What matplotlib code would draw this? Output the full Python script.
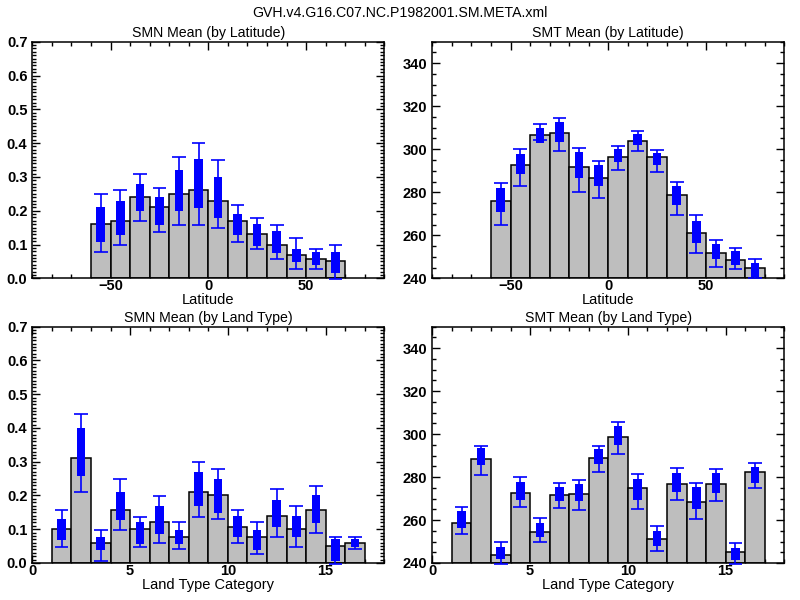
import numpy as np
import matplotlib
matplotlib.use("Agg")
import matplotlib.pyplot as plt
from matplotlib.ticker import MultipleLocator, FormatStrFormatter

plt.rcParams['font.family'] = ['Liberation Sans', 'DejaVu Sans']

suptitle = "GVH.v4.G16.C07.NC.P1982001.SM.META.xml"

# ---------- SMN by latitude ----------
smn_lat_edges = [-60, -50, -40, -30, -20, -10, 0, 10, 20, 30, 40, 50, 60]
smn_lat_mean = [0.16, 0.17, 0.24, 0.21, 0.25, 0.26, 0.23, 0.17, 0.13, 0.10, 0.07, 0.057, 0.05]
smn_lat_box_hi = [0.21, 0.23, 0.28, 0.24, 0.32, 0.352, 0.30, 0.19, 0.16, 0.139, 0.087, 0.079, 0.079]
smn_lat_box_lo = [0.107, 0.127, 0.20, 0.157, 0.20, 0.208, 0.178, 0.127, 0.097, 0.076, 0.047, 0.038, 0.017]
smn_lat_wh_hi = [0.25, 0.26, 0.31, 0.268, 0.36, 0.40, 0.35, 0.218, 0.178, 0.158, 0.119, 0.086, 0.098]
smn_lat_wh_lo = [0.078, 0.10, 0.17, 0.138, 0.158, 0.158, 0.149, 0.108, 0.086, 0.057, 0.028, 0.028, -0.002]

# ---------- SMT by latitude ----------
smt_lat_edges = [-60, -50, -40, -30, -20, -10, 0, 10, 20, 30, 40, 50, 60, 70]
smt_lat_mean = [275.9, 292.7, 306.4, 307.7, 291.8, 286.7, 296.6, 303.9, 296.6, 278.7, 261.0, 251.7, 248.4, 244.7]
smt_lat_box_hi = [282.0, 297.9, 310.0, 312.8, 298.8, 292.7, 300.2, 307.2, 298.3, 283.1, 266.6, 255.9, 252.6, 247.0]
smt_lat_box_lo = [270.6, 288.4, 303.1, 303.6, 286.8, 282.8, 294.0, 301.9, 292.6, 273.9, 256.6, 248.9, 246.4, 240.8]
smt_lat_wh_hi = [284.2, 300.2, 311.8, 314.5, 300.7, 294.4, 301.4, 308.4, 299.6, 284.6, 269.2, 258.0, 254.3, 249.2]
smt_lat_wh_lo = [264.7, 282.9, 304.4, 299.3, 280.1, 277.3, 290.4, 299.1, 289.3, 269.4, 251.7, 245.4, 244.2, 240.0]

# ---------- SMN by land type ----------
land_edges = [1, 2, 3, 4, 5, 6, 7, 8, 9, 10, 11, 12, 13, 14, 15, 16]
smn_land_mean = [0.10, 0.31, 0.058, 0.158, 0.10, 0.12, 0.078, 0.209, 0.20, 0.108, 0.078, 0.138, 0.10, 0.158, 0.049, 0.058]
smn_land_box_hi = [0.13, 0.40, 0.078, 0.209, 0.12, 0.17, 0.099, 0.269, 0.25, 0.138, 0.099, 0.188, 0.138, 0.20, 0.07, 0.07]
smn_land_box_lo = [0.069, 0.258, 0.039, 0.128, 0.057, 0.086, 0.057, 0.169, 0.149, 0.077, 0.039, 0.106, 0.077, 0.119, 0.006, 0.047]
smn_land_wh_hi = [0.158, 0.44, 0.098, 0.25, 0.137, 0.199, 0.12, 0.30, 0.279, 0.158, 0.12, 0.218, 0.169, 0.229, 0.078, 0.078]
smn_land_wh_lo = [0.048, 0.209, 0.006, 0.099, 0.048, 0.058, 0.04, 0.137, 0.129, 0.058, 0.028, 0.078, 0.048, 0.088, -0.004, 0.04]

# ---------- SMT by land type ----------
smt_land_mean = [258.6, 288.4, 243.7, 272.6, 254.4, 271.6, 272.1, 288.8, 298.8, 274.9, 251.2, 276.7, 268.4, 276.7, 245.1, 282.3]
smt_land_box_hi = [264.3, 293.6, 247.6, 277.8, 258.8, 275.5, 276.9, 293.2, 303.9, 279.2, 255.0, 282.0, 275.5, 282.0, 247.1, 284.8]
smt_land_box_lo = [256.4, 285.4, 241.7, 269.5, 252.2, 268.7, 268.7, 285.9, 295.0, 269.5, 248.1, 273.2, 265.3, 272.7, 241.2, 277.4]
smt_land_wh_hi = [266.0, 294.4, 249.8, 280.0, 260.9, 277.2, 278.6, 294.4, 305.6, 281.4, 257.2, 284.2, 277.2, 283.7, 249.3, 286.5]
smt_land_wh_lo = [253.5, 280.8, 239.5, 266.0, 249.8, 265.4, 264.7, 282.3, 290.7, 265.1, 245.6, 269.3, 260.5, 268.8, 239.5, 274.7]

BAR_GRAY = '#bebebe'
BLUE = '#0000ff'

fig = plt.figure(figsize=(8, 6), dpi=100)
fig.text(0.5, 1 - 13 / 600, suptitle, ha='center', va='center', fontsize=10.2)

positions = {
    'tl': [32.3 / 800, 1 - 278.3 / 600, 352 / 800, 236.6 / 600],
    'tr': [432.3 / 800, 1 - 278.3 / 600, 352 / 800, 236.6 / 600],
    'bl': [32.3 / 800, 1 - 563 / 600, 352 / 800, 236.3 / 600],
    'br': [432.3 / 800, 1 - 563 / 600, 352 / 800, 236.3 / 600],
}


def panel(key, edges, width, mean, bhi, blo, whi, wlo, title, xlabel,
          xlim, ylim, xmaj, xmin, ymaj, ymin, yfmt):
    ax = fig.add_axes(positions[key])
    edges = np.asarray(edges, float)
    centers = edges + width / 2
    base = ylim[0]
    ax.bar(edges, np.asarray(mean) - base, bottom=base, width=width, align='edge',
           color=BAR_GRAY, edgecolor='black', linewidth=1.1, zorder=2)
    ax.vlines(centers, wlo, whi, color=BLUE, linewidth=1.2, zorder=3, clip_on=False)
    cap = 0.35 * width
    ax.hlines(whi, centers - cap, centers + cap, color=BLUE, linewidth=1.2, zorder=3, clip_on=False)
    ax.hlines(wlo, centers - cap, centers + cap, color=BLUE, linewidth=1.2, zorder=3, clip_on=False)
    bw = 0.44 * width
    ax.bar(centers, np.asarray(bhi) - np.asarray(blo), bottom=blo, width=bw,
           align='center', color=BLUE, edgecolor='none', zorder=4)
    ax.set_xlim(*xlim)
    ax.set_ylim(*ylim)
    ax.xaxis.set_major_locator(MultipleLocator(xmaj))
    ax.xaxis.set_minor_locator(MultipleLocator(xmin))
    ax.yaxis.set_major_locator(MultipleLocator(ymaj))
    ax.yaxis.set_minor_locator(MultipleLocator(ymin))
    ax.yaxis.set_major_formatter(FormatStrFormatter(yfmt))
    ax.tick_params(which='both', direction='in', top=True, right=True, width=1.0)
    ax.tick_params(which='major', length=5.5)
    ax.tick_params(which='minor', length=3)
    ax.tick_params(axis='y', which='major', pad=3.5)
    ax.tick_params(axis='x', which='major', pad=0.5)
    for lab in ax.get_xticklabels() + ax.get_yticklabels():
        lab.set_fontsize(10.5)
        lab.set_fontweight('bold')
    for s in ax.spines.values():
        s.set_linewidth(1.1)
    ax.set_title(title, fontsize=10.2, pad=3.5)
    ax.set_xlabel(xlabel, fontsize=10.5, labelpad=0)
    return ax


panel('tl', smn_lat_edges, 10, smn_lat_mean, smn_lat_box_hi, smn_lat_box_lo,
      smn_lat_wh_hi, smn_lat_wh_lo, 'SMN Mean (by Latitude)', 'Latitude',
      (-90, 90), (0, 0.7), 50, 10, 0.1, 0.01, '%.1f')
panel('tr', smt_lat_edges, 10, smt_lat_mean, smt_lat_box_hi, smt_lat_box_lo,
      smt_lat_wh_hi, smt_lat_wh_lo, 'SMT Mean (by Latitude)', 'Latitude',
      (-90, 90), (240, 350), 50, 10, 20, 5, '%d')
panel('bl', land_edges, 1, smn_land_mean, smn_land_box_hi, smn_land_box_lo,
      smn_land_wh_hi, smn_land_wh_lo, 'SMN Mean (by Land Type)', 'Land Type Category',
      (0, 18), (0, 0.7), 5, 1, 0.1, 0.01, '%.1f')
panel('br', land_edges, 1, smt_land_mean, smt_land_box_hi, smt_land_box_lo,
      smt_land_wh_hi, smt_land_wh_lo, 'SMT Mean (by Land Type)', 'Land Type Category',
      (0, 18), (240, 350), 5, 1, 20, 5, '%d')

fig.savefig('out.png', dpi=100)
